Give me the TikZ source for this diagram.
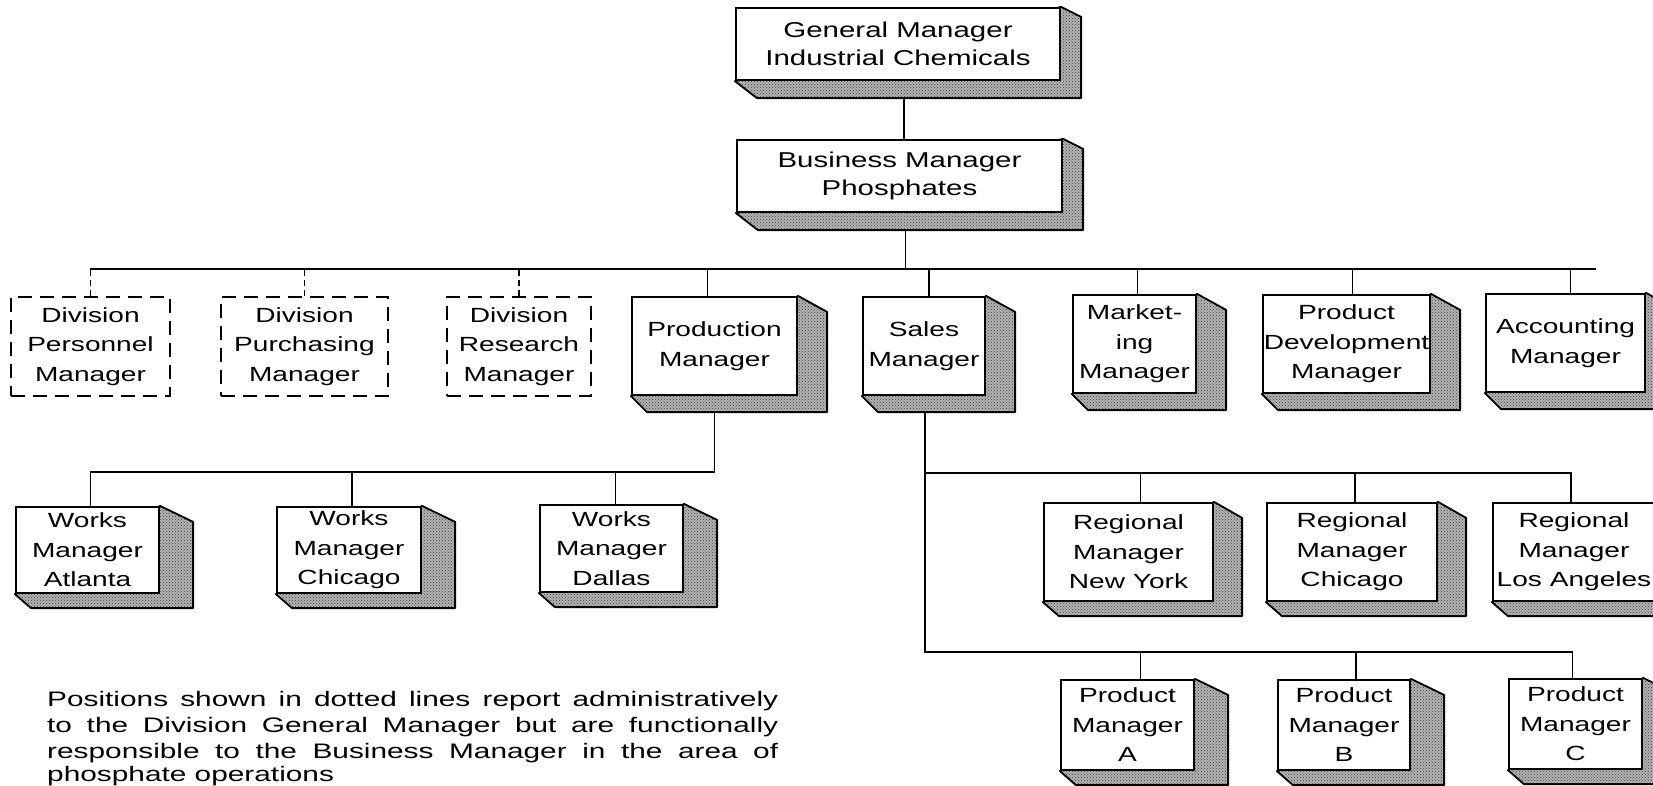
\documentclass[tikz,border=0pt]{standalone}
\usepackage{fontspec}
\newfontfamily\chartfont{Liberation Sans}[FakeStretch=1.37]
\newfontfamily\notefont{Liberation Sans}[FakeStretch=1.42]
\usetikzlibrary{calc,patterns}
\pgfdeclarelayer{bg}
\pgfdeclarelayer{mid}
\pgfsetlayers{bg,mid,main}

\tikzset{
  link/.style={line width=1.6pt, line cap=rect},
  frontbox/.style={draw, line width=2.2pt, fill=white, inner sep=0pt, align=center,
    font=\chartfont\fontsize{20.5}{29.5}\selectfont},
  topfont/.style={font=\chartfont\fontsize{21.5}{28}\selectfont},
  dashbox/.style={frontbox, line width=2pt, dash pattern=on 14pt off 8pt},
  dashlink/.style={link, line cap=butt, dash pattern=on 6pt off 4pt},
  shade/.style={draw, line width=1.8pt, line join=round,
    preaction={fill=black!30}, pattern=crosshatch dots, pattern color=black!75},
  capline/.style={inner sep=0pt, anchor=base west,
    font=\notefont\fontsize{21}{27}\selectfont},
}

% depth of the extruded shadow: right, top drop, bottom drop, bottom inset
\newcommand\shadedepth[4]{\def\shR{#1}\def\shT{#2}\def\shB{#3}\def\shL{#4}}

% box with a solid shadow: [style] name, cx, cy, width, height, text
\newcommand\chartbox[7][]{%
  \node[frontbox,#1, minimum width=#5pt, minimum height=#6pt] (#2) at (#3,#4) {#7};
  \begin{pgfonlayer}{mid}
    \path[shade] (#2.north east) -- ++(\shR,\shT)
      -- ($(#2.south east)+(\shR,\shB)$) -- ($(#2.south west)+(\shL,\shB)$)
      -- (#2.south west) -- cycle;
  \end{pgfonlayer}}

% vertical drop from a bus line to a box: [style] name, x-offset, bus
\newcommand\stub[4][]{\draw[link,#1] ([xshift=#3pt]#2.north) -- ([xshift=#3pt]#2.north |- #4);}

\begin{document}
\begin{tikzpicture}[x=1pt, y=-1pt]
\useasboundingbox (0,0) rectangle (1653,785);
\clip (0,0) rectangle (1653,785);
\begin{pgfonlayer}{bg}
  \fill[white] (0,0) rectangle (1653,785);
\end{pgfonlayer}

% top of the chart
\shadedepth{20}{10}{17}{22}
\chartbox[topfont]{gm}{898}{44}{324}{72}{General Manager\\Industrial Chemicals}
\chartbox[topfont]{bm}{899.5}{176}{325}{72}{Business Manager\\Phosphates}

% staff positions with dotted reporting
\node[dashbox, minimum width=159pt, minimum height=99pt] (pers) at (90.5,346.5) {Division\\Personnel\\Manager};
\node[dashbox, minimum width=167pt, minimum height=99pt] (purch) at (304.5,346.5) {Division\\Purchasing\\Manager};
\node[dashbox, minimum width=144pt, minimum height=99pt] (res) at (519,346.5) {Division\\Research\\Manager};

% line managers reporting to the business manager
\shadedepth{29}{16}{16}{16}
\chartbox{prod}{714.5}{346}{165}{98}{Production\\Manager}
\chartbox{sales}{924}{346}{122}{98}{Sales\\Manager}
\chartbox{mkt}{1134.5}{344}{123}{98}{Market-\\ing\\Manager}
\chartbox{pdev}{1346.5}{344}{167}{98}{Product\\Development\\Manager}
\chartbox{acct}{1565.5}{343}{159}{98}{Accounting\\Manager}

% works managers
\shadedepth{33}{16}{14}{16}
\chartbox{wa}{87.5}{550}{143}{86}{Works\\Manager\\Atlanta}
\chartbox{wc}{349}{550}{144}{86}{Works\\Manager\\Chicago}
\chartbox{wd}{611.5}{548.5}{143}{87}{Works\\Manager\\Dallas}

% regional managers
\shadedepth{28}{16}{14}{16}
\chartbox{rny}{1128.5}{552}{169}{98}{Regional\\Manager\\New York}
\chartbox{rch}{1352}{552}{170}{98}{Regional\\Manager\\Chicago}
\chartbox{rla}{1574}{552}{162}{98}{Regional\\Manager\\Los Angeles}

% product managers
\shadedepth{33}{16}{14}{16}
\chartbox{pa}{1127.5}{725}{133}{90}{Product\\Manager\\A}
\chartbox{pb}{1344}{725}{132}{90}{Product\\Manager\\B}
\chartbox{pc}{1575.5}{724}{133}{90}{Product\\Manager\\C}

% bus lines
\coordinate (bus) at (0,269);
\coordinate (busend) at (1595,269);
\coordinate (wbus) at (0,472);
\coordinate (rbus) at (0,473);
\coordinate (pbus) at (0,652);

\begin{pgfonlayer}{bg}
  \draw[link] ([xshift=6pt]gm.south) -- ([xshift=6pt]gm.south |- bm.north);
  \draw[link] ([xshift=6pt]bm.south) -- ([xshift=6pt]bm.south |- bus);
  \draw[link] (pers.north |- bus) -- (busend);
  \foreach \n in {pers,purch,res} {\stub[dashlink]{\n}{0}{bus}}
  \stub{prod}{-7}{bus}
  \stub{sales}{5}{bus}
  \stub{mkt}{3}{bus}
  \stub{pdev}{6}{bus}
  \stub{acct}{5}{bus}

  % production branch
  \draw[link] (prod.south) -- (prod.south |- wbus) -| ([xshift=3pt]wa.north);
  \stub{wc}{3}{wbus}
  \stub{wd}{4}{wbus}

  % sales branch
  \draw[link] ([xshift=1pt]sales.south) -- ([xshift=1pt]sales.south |- pbus) -| ([xshift=-3pt]pc.north);
  \draw[link] ([xshift=1pt]sales.south |- rbus) -| ([xshift=-3pt]rla.north);
  \stub{rny}{12}{rbus}
  \stub{rch}{3}{rbus}
  \stub{pa}{13}{pbus}
  \stub{pb}{12}{pbus}
\end{pgfonlayer}

% note on the dotted positions
\node[capline] (cap1) at (47,706) {\makebox[731pt][s]{Positions shown in dotted lines report administratively}};
\node[capline] (cap2) at (47,732) {\makebox[731pt][s]{to the Division General Manager but are functionally}};
\node[capline] (cap3) at (47,758) {\makebox[731pt][s]{responsible to the Business Manager in the area of}};
\node[capline] (cap4) at (47,781) {phosphate operations};
\end{tikzpicture}
\end{document}
